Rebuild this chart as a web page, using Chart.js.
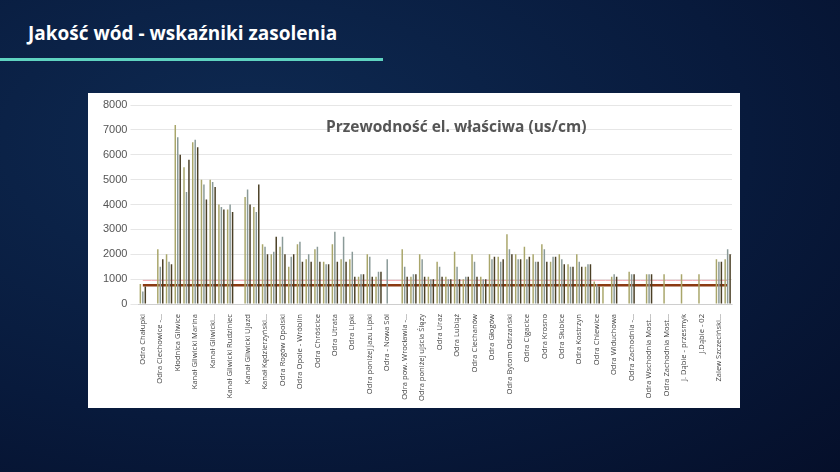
<!DOCTYPE html><html><head><meta charset="utf-8"><script src="https://cdn.jsdelivr.net/npm/chart.js@4"></script>
<style>html,body{margin:0;width:840px;height:472px;overflow:hidden;background:radial-gradient(ellipse at 30% 30%,#0e2a52 0%,#081a3c 60%,#050f2a 100%);font-family:"Open Sans",sans-serif}
#t{position:absolute;left:28px;top:20px;color:#fff;font-size:19px;font-weight:700}
#u{position:absolute;left:0;top:58px;width:383px;height:3px;background:#5fd3c0}
#box{position:absolute;left:88px;top:93px;width:652px;height:315px;background:#fff}
#ttl{position:absolute;left:238px;top:22px;font-family:"Open Sans",sans-serif;font-weight:700;color:#555;font-size:15.5px}</style></head><body>
<div id="t">Jakość wód - wskaźniki zasolenia</div><div id="u"></div>
<div id="box"><canvas id="c" width="652" height="315"></canvas><div id="ttl">Przewodność el. właściwa (us/cm)</div></div>
<script>
const stations=["Odra Chałupki","Odra Ciechowice -...","Kłodnica Gliwice","Kanał Gliwicki Marina","Kanał Gliwicki...","Kanał Gliwicki Rudziniec","Kanał Gliwicki Ujazd","Kanał Kędzierzyński...","Odra Rogów Opolski","Odra Opole - Wróblin","Odra Chróścice","Odra Utrata","Odra Lipki","Odra poniżej Jazu Lipki","Odra - Nowa Sól","Odra pow. Wrocławia -...","Odra poniżej ujścia Ślęzy","Odra Uraz","Odra Lubiąż","Odra Ciechanów","Odra Głogów","Odra Bytom Odrzański","Odra Cigacice","Odra Krosno","Odra Słubice","Odra Kostrzyn","Odra Chlewice","Odra Widuchowa","Odra Zachodnia -...","Odra Wschodnia Most...","Odra Zachodnia Most...","J. Dąbie - przesmyk","J.Dąbie - 02","Zalew Szczeciński...","Zalew Szczeciński..."];
const s1=[800,0,2200,2000,7200,5500,6500,5000,5000,4000,3800,0,4300,3900,2400,2000,2300,1500,2400,1800,2200,1700,2400,1800,1800,1100,2000,1100,0,0,2200,1100,2000,1100,1700,1100,2100,1000,2000,1100,2000,1900,2800,2000,2300,2000,2400,1700,2000,1600,2000,1500,900,700,1100,0,1300,0,1200,0,1200,0,1200,0,1200,0,1800,1800];
const s2=[500,0,1500,1700,6700,4500,6600,4800,4900,3900,4000,0,4600,3700,2300,2100,2700,1900,2500,2000,2300,1600,2900,2700,2100,1200,1900,1300,1800,0,1500,1200,1800,1000,1500,1000,1500,1100,1700,1000,1800,1700,2200,1800,1800,1700,2200,1900,1800,1500,1700,1600,800,0,1200,0,1200,0,1200,0,0,0,0,0,0,0,1700,2200];
const s3=[700,0,1800,1600,6000,5800,6300,4200,4700,3800,3700,0,4000,4800,2000,2700,2000,2000,1700,1700,1700,1600,1700,1700,1100,1200,1100,1300,0,0,1100,1200,1100,1000,1100,1000,1000,1100,1100,1000,1900,1800,2000,1800,1900,1700,1700,1900,1600,1500,1500,1600,700,0,1100,0,1200,0,1200,0,0,0,0,0,0,0,1700,2000];
const limitA=750, limitB=950;
const labels=[];stations.forEach((s,i)=>{labels.push(s);if(i<stations.length-1)labels.push("")});
labels.length=s1.length;
const bp={categoryPercentage:0.85,barPercentage:0.6};
new Chart(document.getElementById('c'),{type:'bar',data:{labels,datasets:[
{data:s1,backgroundColor:'#a9a66a',...bp},
{data:s2,backgroundColor:'#8a9a98',...bp},
{data:s3,backgroundColor:'#4a3f25',...bp},
{type:'line',data:labels.map(()=>limitB),borderColor:'#f4a6ae',borderWidth:1,pointRadius:0},
{type:'line',data:labels.map(()=>limitA),borderColor:'#8b3a12',borderWidth:2.5,pointRadius:0}]},
options:{responsive:false,animation:false,layout:{padding:{left:12,right:8,top:12,bottom:5}},plugins:{legend:{display:false},tooltip:{enabled:false}},
scales:{x:{grid:{display:false},ticks:{autoSkip:false,maxRotation:90,minRotation:90,padding:2,font:{size:7.6,family:'Open Sans'},color:'#444',callback:(v,i)=>labels[i]}},
y:{min:0,max:8000,ticks:{stepSize:1000,font:{size:11},color:'#555',callback:v=>String(v)},grid:{color:'#e6e6e6'},border:{display:false}}}}});
</script></body></html>
